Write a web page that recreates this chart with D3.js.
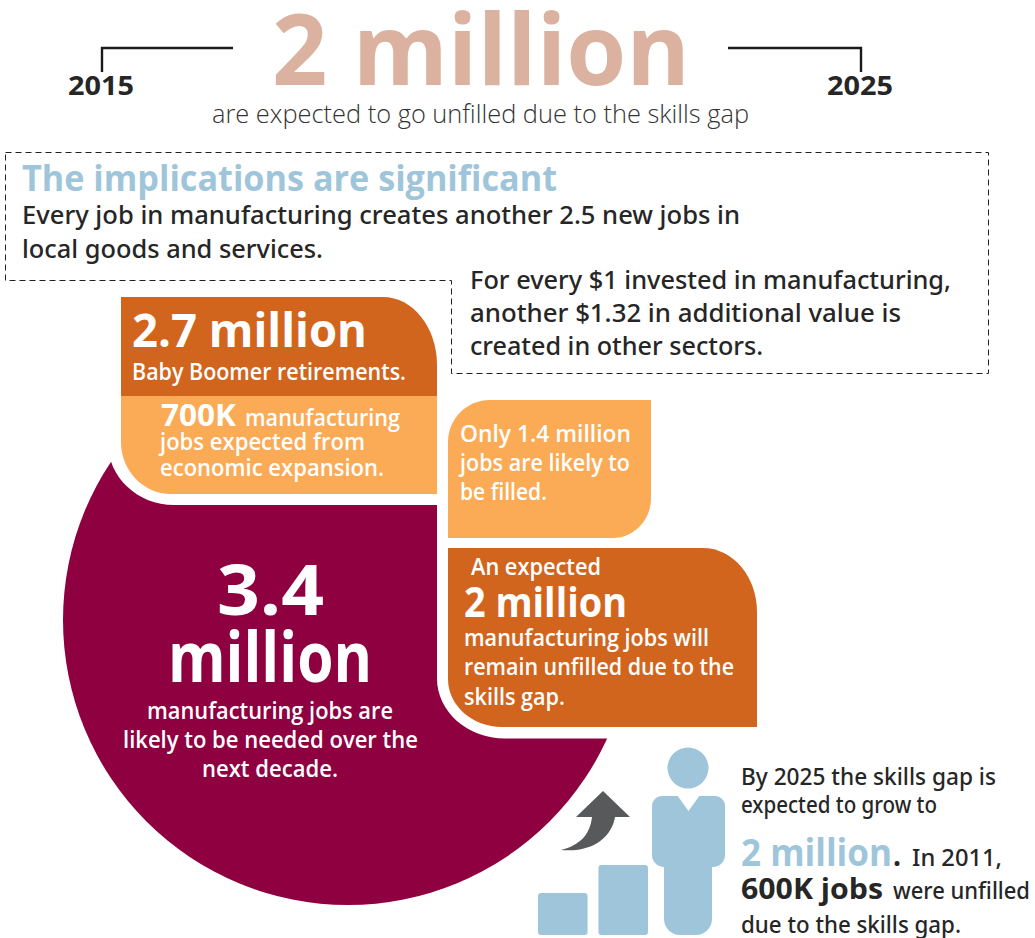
<!DOCTYPE html>
<html>
<head>
<meta charset="utf-8">
<title>Manufacturing skills gap, 2015 to 2025</title>
<script src="https://cdn.jsdelivr.net/npm/d3@7"></script>
<style>
  html, body { margin: 0; padding: 0; background: #fff; }
  svg { display: block; }
  text { font-family: "Open Sans", "Noto Sans", sans-serif; }
  text.medium { font-family: "Noto Sans", "Open Sans", sans-serif; }
</style>
</head>
<body>
<div id="chart"></div>
<script>
// Job counts in millions, by the box that reports them
const neededJobs = 3.4;
const retirements = 2.7;
const expansion = 0.7;
const filledJobs = 1.4;
const unfilledJobs = 2;
const unfilled2011 = 0.6;

// Stepped bars of the growth icon, relative heights
const stepValues = [3, 5];

const years = ["2015", "2025"];

const colors = {
  title: "#dbb2a0",
  blue: "#9fc5da",
  dark: "#d2651e",
  light: "#fbaa55",
  maroon: "#8f0040",
  grey: "#58595b",
  ink: "#262626"
};

const fmtM = v => `${v} million`;
const fmtK = v => `${v * 1000}K`;

const width = 1035, height = 938;
const svg = d3.select("#chart").append("svg")
  .attr("width", width).attr("height", height);

// Rectangle with an elliptical [rx, ry] per corner: tl, tr, br, bl
function roundedBlock(x0, y0, x1, y1, tl, tr, br, bl) {
  const k = 0.4477; // control-point inset for a quarter ellipse
  const p = d3.path();
  p.moveTo(x0 + tl[0], y0);
  p.lineTo(x1 - tr[0], y0);
  p.bezierCurveTo(x1 - tr[0] * k, y0, x1, y0 + tr[1] * k, x1, y0 + tr[1]);
  p.lineTo(x1, y1 - br[1]);
  p.bezierCurveTo(x1, y1 - br[1] * k, x1 - br[0] * k, y1, x1 - br[0], y1);
  p.lineTo(x0 + bl[0], y1);
  p.bezierCurveTo(x0 + bl[0] * k, y1, x0, y1 - bl[1] * k, x0, y1 - bl[1]);
  p.lineTo(x0, y0 + tl[1]);
  p.bezierCurveTo(x0, y0 + tl[1] * k, x0 + tl[0] * k, y0, x0 + tl[0], y0);
  p.closePath();
  return p.toString();
}
const sq = [0, 0];

// Text fitted to a horizontal span so the line lengths stay as laid out
function label(parent, str, x0, x1, y, size, weight, fill) {
  return parent.append("text")
    .attr("class", weight === 500 ? "medium" : null)
    .attr("x", x0).attr("y", y)
    .attr("textLength", x1 - x0).attr("lengthAdjust", "spacingAndGlyphs")
    .attr("font-size", size).attr("font-weight", weight)
    .attr("fill", fill).text(str);
}

// Large circle: area stands for the 3.4 million jobs needed
const radius = d3.scaleSqrt().domain([0, neededJobs]).range([0, 285]);
svg.append("path")
  .attr("transform", "translate(348,620)")
  .attr("d", d3.arc()({ innerRadius: 0, outerRadius: radius(neededJobs), startAngle: 0, endAngle: 2 * Math.PI }))
  .attr("fill", colors.maroon);

// White margins that cut the circle around the boxes
svg.append("path").attr("d", roundedBlock(108, 280, 437, 505, sq, sq, sq, [66, 62])).attr("fill", "#fff");
svg.append("path").attr("d", roundedBlock(437, 300, 700, 738.5, sq, sq, sq, [68, 60])).attr("fill", "#fff");

// Title row with the bracket from 2015 to 2025
const bracket = d3.line();
[[[102, 72], [102, 48], [233, 48]], [[728, 48], [861, 48], [861, 72]]].forEach(pts => {
  svg.append("path").attr("d", bracket(pts)).attr("fill", "none")
    .attr("stroke", "#1a1a1a").attr("stroke-width", 2.4);
});
label(svg, fmtM(unfilledJobs), 272, 690, 85, 98, 700, colors.title);
label(svg, years[0], 68, 134, 95, 27, 700, colors.ink);
label(svg, years[1], 827, 893, 95, 27, 700, colors.ink);
label(svg, "are expected to go unfilled due to the skills gap", 212, 749, 123, 25, 300, "#333");

// Dashed frame around the implications
svg.append("path")
  .attr("d", d3.line()([[5.5, 152.5], [988.5, 152.5], [988.5, 373.5], [451.5, 373.5], [451.5, 280.5], [5.5, 280.5]]) + "Z")
  .attr("fill", "none").attr("stroke", "#222").attr("stroke-width", 1).attr("stroke-dasharray", "6,4");
label(svg, "The implications are significant", 22, 557, 191, 36, 700, colors.blue);
label(svg, "Every job in manufacturing creates another 2.5 new jobs in", 22, 740, 224, 26, 500, colors.ink);
label(svg, "local goods and services.", 22, 323, 258, 26, 500, colors.ink);
label(svg, "For every $1 invested in manufacturing,", 470, 951, 289, 26, 500, colors.ink);
label(svg, "another $1.32 in additional value is", 470, 901, 322, 26, 500, colors.ink);
label(svg, "created in other sectors.", 470, 763, 355, 26, 500, colors.ink);

// Coloured boxes
svg.append("path").attr("d", roundedBlock(121, 297, 437, 396, sq, [54, 68], sq, sq)).attr("fill", colors.dark);
svg.append("path").attr("d", roundedBlock(121, 396, 437, 494, sq, sq, sq, [50, 52])).attr("fill", colors.light);
svg.append("path").attr("d", roundedBlock(448, 400, 651, 538, [42, 42], sq, [38, 40], sq)).attr("fill", colors.light);
svg.append("path").attr("d", roundedBlock(448, 548, 757, 727, sq, [54, 64], sq, [54, 48])).attr("fill", colors.dark);

// Text inside the boxes
label(svg, fmtM(retirements), 132, 367, 347, 46, 700, "#fff");
label(svg, "Baby Boomer retirements.", 132, 406, 380, 24, 600, "#fff");
label(svg, fmtK(expansion), 161, 236, 426, 31, 700, "#fff");
label(svg, "manufacturing", 245, 400, 426, 24, 600, "#fff");
label(svg, "jobs expected from", 160, 365, 450, 24, 600, "#fff");
label(svg, "economic expansion.", 160, 384, 476, 24, 600, "#fff");

label(svg, `Only ${fmtM(filledJobs)}`, 460, 631, 442, 24, 600, "#fff");
label(svg, "jobs are likely to", 460, 630, 471, 24, 600, "#fff");
label(svg, "be filled.", 460, 547, 500, 24, 600, "#fff");

label(svg, "An expected", 471, 601, 575, 24, 600, "#fff");
label(svg, fmtM(unfilledJobs), 464, 627, 617, 42, 700, "#fff");
label(svg, "manufacturing jobs will", 464, 709, 646, 24, 600, "#fff");
label(svg, "remain unfilled due to the", 464, 734, 675, 24, 600, "#fff");
label(svg, "skills gap.", 464, 565, 705, 24, 600, "#fff");

label(svg, String(neededJobs), 217, 324, 615, 70, 700, "#fff");
label(svg, "million", 168, 372, 682, 70, 700, "#fff");
label(svg, "manufacturing jobs are", 147, 393, 719, 24, 600, "#fff");
label(svg, "likely to be needed over the", 123, 418, 748, 24, 600, "#fff");
label(svg, "next decade.", 202, 338, 777, 24, 600, "#fff");

// Growth icon: stepped bars, arrow and figure
const stepHeight = d3.scaleLinear().domain([0, 5]).range([0, 70]);
const stepX = d3.scaleBand().domain(d3.range(stepValues.length)).range([538, 648]).paddingInner(0.18);
svg.selectAll("rect.step").data(stepValues).join("rect")
  .attr("class", "step")
  .attr("x", (d, i) => stepX(i)).attr("width", stepX.bandwidth())
  .attr("y", d => 935 - stepHeight(d)).attr("height", d => stepHeight(d))
  .attr("rx", 3).attr("fill", colors.blue);

svg.append("path")
  .attr("d", "M603 791 L630 817 L615 817 C612 836 594 853 561 850 C580 845 590 835 592 817 L576 817 Z")
  .attr("fill", colors.grey);

svg.append("circle").attr("cx", 688).attr("cy", 768).attr("r", 20.5).attr("fill", colors.blue);
svg.append("path")
  .attr("d", roundedBlock(652, 796, 725, 867, [10, 10], [10, 10], [12, 12], [12, 12])).attr("fill", colors.blue);
svg.append("path")
  .attr("d", d3.line()([[677, 795], [688.5, 811], [700, 795]]) + "Z").attr("fill", "#fff");
svg.append("path")
  .attr("d", roundedBlock(664, 860, 712, 935, sq, sq, [16, 16], [16, 16])).attr("fill", colors.blue);

// Note beside the figure
label(svg, "By 2025 the skills gap is", 741, 996, 785, 23, 500, colors.ink);
label(svg, "expected to grow to", 741, 937, 813, 23, 500, colors.ink);
label(svg, fmtM(unfilledJobs), 741, 892, 866, 38, 700, colors.blue);
label(svg, ".", 893, 901, 866, 30, 700, colors.ink);
label(svg, "In 2011,", 912, 1002, 866, 23, 500, colors.ink);
label(svg, `${fmtK(unfilled2011)} jobs`, 741, 883, 899, 29, 700, colors.ink);
label(svg, "were unfilled", 893, 1030, 899, 23, 500, colors.ink);
label(svg, "due to the skills gap.", 741, 961, 933, 23, 500, colors.ink);
</script>
</body>
</html>
